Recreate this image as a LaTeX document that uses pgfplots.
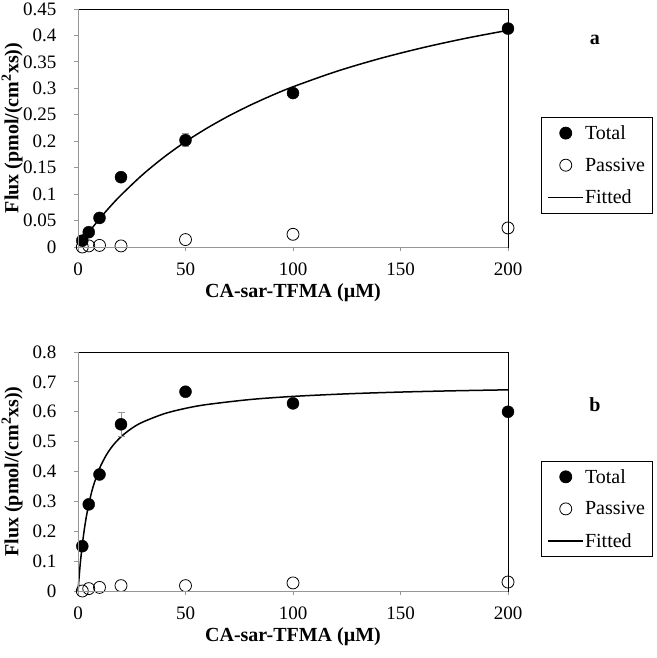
\documentclass[border=0pt]{standalone}
\usepackage{pgfplots}
\pgfplotsset{compat=1.18}
\usepackage{fontspec}
\setmainfont{Liberation Serif}
\definecolor{axgray}{RGB}{150,150,150}
\newcommand{\lf}{\fontsize{20}{22}\selectfont}
\pgfplotsset{
  panel/.style={
    scale only axis, width=430pt, anchor=south west,
    xmin=0, xmax=200, ymin=0,
    xtick={0,50,100,150,200},
    axis line style={black, line width=0.8pt},
    tick align=outside, xtick pos=bottom, ytick pos=left,
    major tick length=4pt,
    tick style={axgray, line width=0.8pt},
    /pgf/number format/assume math mode=true,
    tick label style={font=\fontsize{19}{19}\selectfont},
    yticklabel style={xshift=-14pt},
    xticklabel style={yshift=-8pt},
    label style={font=\fontsize{20}{20}\selectfont\bfseries},
    xlabel={CA-sar-TFMA (µM)},
    ylabel={Flux (pmol/(cm\textsuperscript{2}xs))},
    xlabel style={at={(axis description cs:0.5,-0.19)}, anchor=center},
    ylabel style={at={(axis description cs:-0.153,0.5)}, anchor=center},
    clip=false,
    legend cell align=left,
    legend style={draw=black, line width=0.8pt, font=\lf,
      anchor=north west, row sep=15pt, inner xsep=6pt, inner ysep=7pt,
      nodes={inner sep=1pt}},
    error bars/error bar style={axgray, line width=0.8pt},
    error bars/error mark options={rotate=90, axgray, mark size=3.5pt, line width=0.8pt},
    after end axis/.code={
      \draw[axgray, line width=0.9pt] (rel axis cs:0,0) -- (rel axis cs:1,0);
      \draw[axgray, line width=0.9pt] (rel axis cs:0,0) -- (rel axis cs:0,1);
    },
  },
  totalstyle/.style={only marks, mark=*, mark size=6pt, black, mark options={fill=black},
    legend image code/.code={\draw[##1, line width=0.8pt] plot coordinates {(17.5pt,0pt)};}},
  passivestyle/.style={only marks, mark=o, mark size=6pt, black, mark options={fill=white, line width=0.8pt},
    legend image code/.code={\draw[##1] plot coordinates {(17.5pt,0pt)};}},
  fitstyle/.style={black, line width=1.5pt, smooth, no marks},
  fitlegend/.style={black, line width=1.5pt,
    legend image code/.code={\draw[##1, line width=1.5pt] (0pt,0pt) -- (35pt,0pt);}},
}
\begin{document}
\begin{tikzpicture}
\useasboundingbox (0pt,0pt) rectangle (656pt,658pt);
% ---------- panel a ----------
\begin{axis}[panel, at={(78pt,411pt)}, height=238pt, ymax=0.45,
  ytick={0,0.05,0.1,0.15,0.2,0.25,0.3,0.35,0.4,0.45},
  yticklabels={0,0.05,0.1,0.15,0.2,0.25,0.3,0.35,0.4,0.45},
  legend style={at={(axis description cs:1.077,0.546)}}]
\addplot[fitstyle, forget plot] coordinates {
(2,0.0114) (5,0.0278) (10,0.0532) (15,0.0766) (20,0.0981) (30,0.1366) (40,0.1699)
(50,0.1991) (60,0.2247) (70,0.2475) (80,0.2679) (90,0.2863) (100,0.3029) (120,0.3317)
(140,0.3559) (160,0.3765) (180,0.3943) (200,0.4097)};
\addplot[totalstyle, error bars/.cd, y dir=both, y explicit] coordinates {
(2,0.012) +- (0,0.002) (5,0.028) +- (0,0.003) (10,0.055) +- (0,0.003)
(20,0.132) +- (0,0.008) (50,0.202) +- (0,0.012) (100,0.291) +- (0,0.006) (200,0.413) +- (0,0.003)};
\addlegendentry{\lf Total}
\addplot[passivestyle] coordinates {
(2,0.000) (5,0.002) (10,0.003) (20,0.002) (50,0.014) (100,0.024) (200,0.036)};
\addlegendentry{\lf Passive}
\addlegendimage{fitlegend}
\addlegendentry{\lf Fitted}
\node[font=\fontsize{20}{20}\selectfont\bfseries] at (axis description cs:1.202,0.870) {a};
\end{axis}
% ---------- panel b ----------
\begin{axis}[panel, at={(78pt,67pt)}, height=239pt, ymax=0.8,
  ytick={0,0.1,0.2,0.3,0.4,0.5,0.6,0.7,0.8},
  yticklabels={0,0.1,0.2,0.3,0.4,0.5,0.6,0.7,0.8},
  legend style={at={(axis description cs:1.077,0.545)}}]
\addplot[fitstyle, forget plot] coordinates {
(0,0) (1,0.0871) (2,0.1549) (3,0.2091) (4,0.2535) (5,0.2904) (7,0.3485) (10,0.4100)
(13,0.4530) (16,0.4849) (20,0.5163) (25,0.5445) (30,0.5651) (40,0.5932) (50,0.6114)
(60,0.6242) (80,0.6409) (100,0.6514) (125,0.6600) (150,0.6659) (175,0.6702) (200,0.6734)};
\addplot[totalstyle, error bars/.cd, y dir=both, y explicit] coordinates {
(2,0.150) +- (0,0.004) (5,0.290) +- (0,0.005) (10,0.390) +- (0,0.005)
(20,0.558) +- (0,0.041) (50,0.667) +- (0,0.006) (100,0.628) +- (0,0.014) (200,0.600) +- (0,0.004)};
\addlegendentry{\lf Total}
\addplot[passivestyle] coordinates {
(2,0.000) (5,0.008) (10,0.012) (20,0.018) (50,0.018) (100,0.027) (200,0.030)};
\addlegendentry{\lf Passive}
\addlegendimage{fitlegend}
\addlegendentry{\lf Fitted}
\node[font=\fontsize{20}{20}\selectfont\bfseries] at (axis description cs:1.202,0.778) {b};
\end{axis}
\end{tikzpicture}
\end{document}
